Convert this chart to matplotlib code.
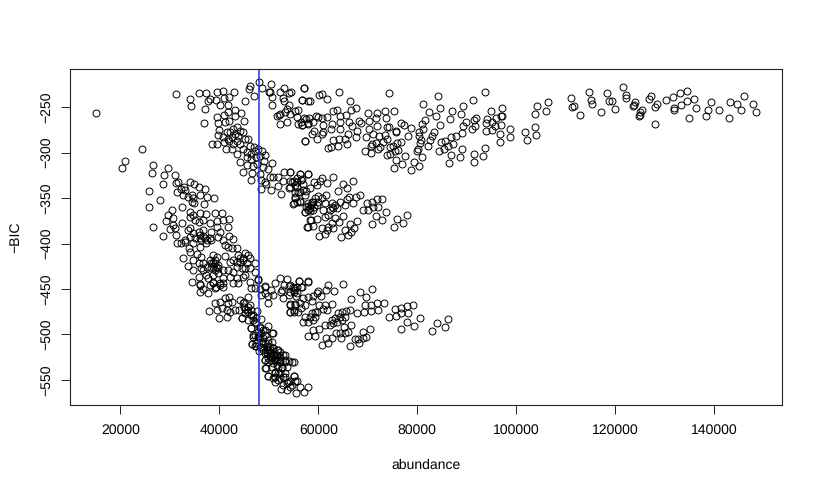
import numpy as np
import matplotlib
matplotlib.use("Agg")
import matplotlib.pyplot as plt

plt.rcParams['font.family'] = ['Liberation Sans', 'DejaVu Sans']
plt.rcParams['text.hinting'] = 'none'
plt.rcParams['text.hinting_factor'] = 1

# (abundance in thousands, -BIC)
outliers_left = [(15.1,-256.5),(24.4,-296),(20.9,-309),(20.4,-317),(26.7,-314),(26.5,-322),(29.7,-317),(28.9,-325),(28.6,-335),
(31.0,-325),(25.9,-342),(28.1,-352.4),(25.7,-360),(26.6,-382),(28.7,-392)]

top_left = [(31.2,-236),(34.1,-241),(34.3,-249),(35.8,-234.5),(37.4,-235),(39.5,-234),(40.7,-232),(43.0,-234),(37.8,-243),(38.1,-241),
(39.3,-242),(40.9,-240),(42,-239),(40.1,-248),(41.7,-248),(37.2,-252),(45.2,-243),(46.3,-226.5),(46,-230.5),(47.1,-238),(48,-222),
(48.7,-229),(50.4,-225),(50,-234),(50.2,-234),(50.7,-239),(50.6,-248),(53,-229),(52.2,-233),(54.1,-234.5),(54.4,-234),(52.9,-240),
(53.1,-243),(54.1,-248),(57.1,-229.5),(56.7,-242),(58,-243),(55.9,-253),(55.3,-254),(53.6,-252),(53.2,-256),(52.2,-258),(51.6,-260),
(52.1,-258.7),(54.3,-258),(55.7,-260.5),(53.6,-267),(52.2,-269),(55.9,-268.6),(56.7,-270),(57.6,-263),(58,-268.6),(57.4,-287)]

descending_band = [(37,-268),(43.1,-253),(44.4,-257),(41.7,-255),(40.9,-259),(39.5,-260.5),(43.1,-259.5),(41.9,-265),(41.1,-266),
(39.7,-267.5),(45,-265.7),(39.9,-275),(39.8,-281),(41.5,-277.7),(42.1,-277.7),(42.8,-274.1),(43.5,-272.3),(44.2,-275.9),(43.1,-279.6),
(43.8,-281.4),(42.5,-283.2),(41.8,-285),(40.8,-283.2),(44.8,-277.7),(45.2,-285),(45.8,-285),(44.2,-290.6),(43.5,-286.9),(42.8,-290.6),
(42,-286.9),(38.6,-290.5),(39.5,-291),(41.3,-296),(42.5,-296.4),(40.9,-288.7),(43.5,-301.5),(44.8,-296),(46.2,-292.4),(47.1,-294.2),
(45.5,-299.7),(46.5,-301.5),(47.2,-297.9),(47.9,-296),(45.5,-305.2),(46.5,-307),(47.5,-305.2),(48.2,-303.4),(48.7,-297.9),(49.3,-302.3),
(49.1,-308.9),(50.6,-311.8),(44.2,-310.7),(45.6,-313.6),(46.9,-315.1),(47.7,-312.5),(49.9,-318),(48.9,-316.2),(44.7,-321.7),(46.7,-322.4),
(48.3,-323.5),(46.4,-330.1),(48.4,-329.7),(49.2,-332.6),(50.2,-327.2),(48.5,-340),(53.1,-320.9),(54.3,-321.7),(56.4,-323.9),(58,-323.9),
(50.9,-327.2),(51.9,-327.2),(52.9,-330.8),(54.3,-330.8),(55.1,-330.8),(55.6,-332.6),(56.7,-329),(57,-334.5),(49.5,-334.5),(50.4,-341),
(51.9,-337),(52.4,-345.8),(54,-339.2),(55.6,-338.1),(56.3,-343.6),(57.6,-341.8),(55.3,-349.1),(56.3,-352.8),(54.9,-356.4),(55.6,-354.6),
(57.3,-365.6),(58,-358.3),(58.3,-363.8),(57.8,-382),(58.3,-374.7)]

top_middle = [(57.1,-229.4),(56.8,-242.6),(58.3,-243),(60.1,-237),(60.7,-235.7),(61.7,-241.5),(64.2,-234),(66.5,-243),(74.3,-235),(84.2,-238),
(81.1,-247),(93.6,-233.5),(91.2,-242.2),(89.3,-249),(84.6,-251),(82.3,-255),(87.1,-254),(88.8,-258),(83.8,-259.8),(86.7,-263),(81.6,-263.8),
(84.5,-269.7),(81,-268.6),(81.2,-274),(80.3,-277),(80.4,-282),(78.8,-273.3),(78.2,-281.8),(83.4,-277.7),(82.9,-281.4),(82.5,-285.8),(82.1,-293),
(80.7,-285.8),(80.5,-289.5),(80.2,-296),(79.9,-298.6),(80.9,-305.2),(79.3,-310),(80.4,-314.3),(78.8,-318.7),(76.9,-312.1),(77.5,-303.4),
(75.3,-316.5),(75.8,-307.8),(74.5,-301.5),(73.9,-302.6),(76.2,-297.1),(75.5,-297.9),(74.5,-294.2),(75.1,-293.1),(76,-289.5),(76.8,-288.7),
(73.4,-254),(75.2,-254),(71.8,-256.5),(71.6,-262.4),(73.6,-262.4),(70,-256.9),(70.3,-265.7),(71.9,-271.2),(73.9,-272.3),(74.3,-272.3),
(70.2,-274.4),(71.1,-279.6),(72.3,-281.4),(73.5,-280.7),(73.9,-285),(73,-288),(71.6,-289.5),(70.8,-290.6),(70.6,-293.1),(72.5,-294.2),
(72.1,-296),(69.4,-298.6),(70.6,-300.4),(75.8,-277),(75.8,-276.3),(76.8,-267.5),(77.3,-269.3),(69.6,-283.2),(67.7,-283.2),(67.9,-276.3),
(66.1,-279.6),(65.8,-290.9),(64,-292.4),(62,-294.9),(62.5,-293.8),(63,-286.5),(64.2,-285.4),(65.3,-284.7),(64.4,-274.1),(62.6,-274.1),
(61,-277.7),(60.7,-279.6),(59.2,-276.6),(58.8,-279.6),(59.7,-285),(57.4,-286.9),(64.4,-266.8),(62.8,-268.6),(61,-269.7),(66.2,-266),
(66.9,-271.2),(68.6,-267.9),(68.3,-264.9),(65.5,-258.7),(64.4,-260.2),(63,-254.7),(63.8,-252.9),(66.7,-252.9),(67.7,-251),(61.8,-260.5),
(60.7,-262),(60,-260.5),(59.5,-260.2),(59,-266.8),(58.2,-262.4),(57.1,-262),(56.8,-269.7),(58,-267.9),(56.6,-266.8)]

top_right_a = [(84.8,-288.7),(85.6,-287.6),(85.3,-296),(84.3,-297.9),(86.3,-292.4),(86.9,-283.2),(87.8,-282.1),(87.3,-290.6),(89,-296),(86.9,-302.3),
(88.6,-304.8),(86.5,-311),(89,-278.8),(89.8,-266.8),(89.2,-270.4),(91.4,-263.8),(91.9,-261.6),(91.6,-270.4),(91,-274.1),(94.9,-254),(97.2,-250.7),
(96,-262),(96.9,-260.2),(97.2,-259.8),(94,-263.1),(95,-266),(93.9,-267.9),(96.9,-269.3),(95.8,-271.2),(95,-274.8),(93.9,-276.3),(98.8,-274.1),
(96.7,-279.6),(98.7,-283.2),(96.7,-288.4),(101.8,-277),(102.2,-286.2),(103.8,-271.5),(104,-280.3),(103.7,-257.2),(104.1,-248.5),(93.6,-295.3),
(93.3,-304.1),(91.5,-301.5),(91.4,-310.3)]

top_right_b = [(106.4,-244.8),(106.1,-254),(111.1,-240),(111.3,-249.6),(111.7,-249.2),(112.9,-258.3),(114.7,-233.8),(115,-242.6),(115.2,-247),
(117.1,-255.8),(118.3,-234.6),(118.7,-243),(119.3,-243.7),(120,-252),(121.5,-228.3),(122.2,-236.7),(122.2,-240.4),(124,-244.4),(123.8,-247.7),
(123.6,-249),(125.3,-253.2),(125,-255.8),(124.9,-258.3),(124.7,-260),(128.1,-268.6),(127.3,-237.8),(126.9,-241.5),(128.4,-246.6),(128,-250.3),
(130.2,-242.2),(131.7,-239.3),(133.1,-235),(134.5,-232.4),(134.5,-243.7),(135.9,-241),(133.3,-248),(131.8,-251),(131.8,-252.9),(136.3,-251.4),
(134.8,-261.6),(139.3,-244),(138.7,-253.6),(138.3,-259.8),(141,-252.9),(143,-262.4),(143.2,-244.8),(144.6,-246.3),(145.4,-253.2),(146.1,-237.5),
(147.9,-246.3),(148.4,-255)]

lower_upper_arm = [(31.2,-333.8),(31.7,-332.4),(32.3,-340.4),(32.9,-338.2),(31.4,-343),(34.1,-332),(34.9,-335),(35.8,-338),(37.2,-340.4),(36.1,-346.6),
(34.4,-346.6),(33.7,-349.2),(34.7,-350.3),(34.4,-354),(34.9,-355),(37.6,-349.2),(39,-350),(37,-357),(33.1,-341),(32.7,-346.6)]

lower_dense = [(32.4,-359.4),(30.4,-363),(34,-365),(29.7,-368.6),(29.2,-375),(30.6,-371.5),(30.6,-379.6),(30,-384),(31,-383.2),(32.4,-377),(31.2,-391),
(31.4,-399.7),(32.2,-399.7),(33.1,-398),(33.9,-405.2),(34.1,-409),(32.7,-416),(34.1,-370.4),(34.7,-368.6),(36.2,-366),(37.3,-367.5),(39.1,-366.8),
(40.6,-366.8),(42,-373),(40.7,-374.1),(39.5,-375.2),(38.1,-377),(36.8,-374.1),(35.8,-375.9),(35.1,-374.1),(34.1,-383.2),(33.7,-385.1),(34.7,-388.7),
(35.8,-386.9),(36.8,-385.1),(36.1,-390.6),(35.1,-394.2),(36.4,-396),(37.1,-394.2),(38.1,-394.2),(38.4,-396),(37.4,-399.7),(36.1,-403.4),(39.5,-381.4),
(41.7,-381.8),(40.1,-386.9),(39.8,-392.4),(42,-391.6),(42.8,-394.9),(40.8,-396),(41.1,-401.5),(42.5,-405.2),(43.5,-405.2),(41.8,-403.4),(38.4,-386.9),
(34.1,-392.4),(33.1,-396),(34.7,-399.7),(36.4,-414.3),(35.4,-411.8),(38.8,-412.5),(39.5,-414.3),(41.1,-413.2),(39.1,-418),(38.1,-418),(42.1,-419.8),
(43.8,-412.5),(45.2,-410),(45.9,-412.5),(42.8,-418),(43.5,-419.8),(44.2,-416.2),(44.8,-418),(45.5,-421.7),(46.2,-416.2),(47.2,-421.7),(43.5,-425.3),
(44.5,-427.2),(45.2,-427.2),(47.2,-430.8),(42.8,-430.8),(41.8,-429),(40.8,-429),(38.4,-421.7),(39.1,-421.7),(39.8,-423.5),(38.4,-427.2),(39.1,-429),
(39.8,-427.2),(36.8,-421.7),(36.4,-427.2),(37.6,-425.3),(34.7,-418),(35.8,-421.7),(33.7,-424.6),(34.7,-429),(35.8,-436.3),(36.8,-429),(37.4,-434.5),
(38.8,-434.5),(39.8,-432.6),(40.8,-438.1),(42.1,-436.3),(45.2,-434.5),(46.2,-427.2),(43.8,-443.6),(42.8,-443.6),(34.4,-442.5),(36.1,-444.7),(37.8,-438.1),
(38.8,-441.8),(40.1,-443.6),(40.8,-447.3),(46.2,-441.8),(47.9,-439.2),(49.2,-446.5),(46.5,-449.1),(44.8,-436.3),(43.5,-438.1),(39.3,-447.3),(36.1,-394.2),
(36.8,-391.6),(37.6,-396),(38.8,-421.7),(39.3,-425.3),(38.8,-425.3),(44.8,-416.2),(44.2,-419.8)]

lower_tail = [(36.2,-453.6),(37.8,-454.7),(36.1,-445.6),(38.1,-445.6),(38.8,-443.8),(40.1,-445.6),(40.8,-443.8),(39.1,-449.3),(36.8,-450.3),(39.1,-465.7),
(40.1,-463.9),(41.1,-460.2),(42,-458.4),(41.8,-465.7),(42.5,-463.9),(40.5,-471.2),(38,-473.8),(39.5,-473),(41.5,-473),(42.2,-474.9),(43.2,-473),(44,-473),
(39.9,-481.5),(41.5,-480.4),(44.6,-481.5),(44.8,-465.7),(45.9,-458.4),(46.2,-467.6),(45.2,-472.3),(45.9,-474.9),(46.5,-478.5),(47.7,-473.8),(46.9,-484),
(46.5,-493.2),(48.5,-483.3),(49.9,-490.2),(50.8,-498.7),(47.5,-487.7),(50.6,-507.8),(46.7,-510.4),(47.2,-512.2),(48.1,-517.7),(48.2,-491.3),(48.9,-495),
(47.2,-500.5),(47.9,-502.3),(49.2,-500.5),(48.5,-507.8),(48.9,-509.6),(49.6,-513.3),(49.9,-517),(50.2,-518.8),(50.9,-515.1),(51.6,-522.4),(49.2,-520.6),
(50.6,-526.1),(52.2,-518.8),(53.3,-522.4),(53.3,-527.9),(54.1,-529),(54.7,-529.8),(49.2,-527.9),(49.9,-529.8),(50.9,-531.6),(51.6,-527.9),(52.2,-529.8),
(52.6,-537.1),(53.7,-535.3),(49.4,-537.1),(51.2,-540.8),(51.9,-542.6),(53.3,-542.6),(49.9,-545.5),(50.9,-548.1),(51.9,-549.9),(53.3,-546.2),(55,-545.5),
(55.6,-551),(53.6,-553.6),(54.3,-557.2),(52.4,-560.1),(53.6,-560.9),(56.4,-557.2),(58,-557.2),(55.5,-563.8),(57.1,-563.4),(53.9,-551.7),(52.9,-555.4),
(51.2,-546.2),(51.9,-536),(49.6,-518.8),(50.2,-522.4),(50.9,-522.4),(48.5,-513.3),(49.2,-509.6),(48.2,-502.3),(48.5,-498.7),(47.9,-496.8),(49.9,-509.6),
(50.2,-513.3),(51.6,-517),(51.2,-526.1),(52.2,-524.3),(50.2,-527.9)]

tail_extra = [(46.9,-502.3),(46.7,-510.7),(47.5,-512.2),(48.2,-513.3),(48.9,-517),(49.6,-520.6),(50.2,-517),(50.9,-515.1),(51.9,-517),(52.9,-522.5),
(51.6,-522.5),(50.6,-524.3),(49.9,-526.1),(49.2,-528),(51.2,-528),(52.3,-528),(53.3,-529.8),(55,-529.8),(49.2,-537),(50.6,-535.3),(51.6,-533.4),(52.6,-535.3),
(49.9,-545.2),(51.2,-542.6),(52.3,-542.6),(52.9,-546.2),(55,-545.2),(51.2,-552.5),(52.3,-548.1),(54.3,-551),(55.3,-551),(54.6,-555.4),
(49.2,-495),(50.7,-498.6),(46.5,-493),(47.5,-482.2),(46.9,-478.5),(45.5,-473),(44.9,-469.4),(45.9,-469.4),(44.2,-462),(44.9,-463.9),(46.5,-473),(45.2,-476.7),
(44.5,-482),(45.9,-484),(47.2,-485.8),(46.9,-500.5),(48.2,-493),(48.9,-504),(49.9,-506),(47.9,-502.3),(47.5,-509.6),
(47.9,-440),(48.2,-450),(48.4,-456.5),(47.2,-449.2)]

lower_fan_left = [(51.2,-443),(52.3,-438.2),(53.6,-439.3),(52.4,-452.9),(52.7,-451),(53.1,-445.6),(52.9,-460.2),(54.1,-446.3),(55.1,-449.2),(56.2,-440.8),
(57.9,-441.2),(56.5,-447.4),(55,-452.9),(55.6,-454.7),(54,-456.5),(54.3,-466.8),(55.3,-466.8),(54.3,-474.8),(55,-473),(49.2,-447.4),(50.4,-451),(49.2,-454.7),
(49.9,-457.3),(50.9,-456.5),(49.9,-465)]

lower_fan = [(56.2,-441.5),(58,-441.9),(62,-446),(64.9,-444.8),(61.5,-451),(63.2,-452.2),(60,-451.8),(60.5,-457.6),(59.7,-454.7),(54.3,-445.6),(54.8,-447.4),
(55.6,-447.4),(56.8,-447.4),(55.1,-451),(54.3,-452.9),(55.5,-457.6),(57,-460.2),(58,-458.4),(58.9,-457.6),(58.8,-463.1),(56.3,-465.7),(55.3,-467.5),
(54.3,-467.5),(57.3,-467.5),(56.6,-471.2),(56,-474.9),(55,-474.9),(54.3,-474.9),(60.2,-467.5),(61.4,-467.5),(62.7,-466.4),(61,-472.3),(59.7,-474.9),
(58.7,-476.7),(59.3,-474.9),(61.7,-473),(57.3,-480.3),(58.3,-480.3),(59.3,-480.3),(58,-485.8),(57,-485.8),(59,-484),(66.7,-461),(68.4,-452.9),(69.6,-458.4),
(70.9,-450.3),(69.4,-467.9),(70.6,-467.5),(71.9,-465.7),(73.3,-465),(67.9,-476),(69.2,-475.2),(70.6,-473.8),(72,-473),(74.3,-480.3),(75.5,-472.3),
(76.7,-471.2),(78,-468.6),(79.2,-467.5),(75.7,-479.6),(76.8,-476.7),(78.2,-476),(77.9,-486.2),(80.5,-482.2),(79.4,-490.6),(76.8,-494.2),(83,-496.1),
(83.9,-487.3),(85.5,-491.7),(86.3,-482.9),(66.4,-473),(65.6,-473.8),(64.7,-474.9),(64,-476.7),(65.4,-480.3),(64.4,-480.3),(63.4,-482.2),(62.7,-484),
(64.7,-484),(63.7,-485.8),(63,-487.7),(62.4,-489.5),(61.4,-489.5),(66.7,-489.5),(65.1,-491.3),(66.1,-496.8),(65.4,-497.9),(64.4,-497.9),(63.6,-498.6),
(69,-496.8),(70.4,-494.2),(69.6,-502.3),(69.1,-504.1),(68.1,-504.9),(67.4,-504.9),(68.3,-509.6),(66.4,-512.5),(64.5,-503.8),(62.7,-504.1),(61.5,-504.1),
(62,-509.6),(60.7,-511.5),(60.1,-493.9),(58.9,-495),(59.3,-501.2),(58,-501.6)]

middle_fan = [(54.3,-321.7),(56.3,-323.9),(58,-323.6),(63,-327.2),(60.8,-328.3),(59.1,-332),(59.7,-335.7),(61.8,-333.8),(60.3,-330.9),(64.9,-334.6),(67,-331.6),
(65.9,-339.3),(63.9,-341.9),(55.6,-328.3),(56.6,-330.2),(54.6,-332),(55.3,-335.7),(54.3,-337.5),(57,-341.1),(58.3,-339.3),(56,-343),(55.3,-344.8),(57.3,-346.6),
(60,-347.7),(61.5,-346.6),(56.3,-354),(55,-355.8),(55.3,-350.3),(61.4,-355.8),(62.7,-355.8),(64.4,-354),(66.3,-349.2),(65.7,-351.4),(67.7,-349.2),(68.5,-346.6),
(67.1,-355.8),(65.4,-357.6),(63.7,-361.3),(62.4,-363.1),(61,-363.1),(58,-355.8),(58.7,-354),(59.3,-350.3),(60,-354),(60.7,-350.3),(58.3,-361.3),(57.3,-364.9),
(59,-363.1),(57.6,-359.4),(59.7,-357.6),(63,-361.3),(62,-368.6),(61.4,-370.4),(69.1,-363.5),(69.9,-355),(70.9,-354.7),(71.9,-351.4),(72.9,-351),(70.1,-363.1),
(71.1,-360.2),(72.1,-359.4),(73.7,-365.7),(71.6,-369.7),(72.8,-374.1),(70.8,-378.1),(77.9,-369),(75.9,-373.3),(77.2,-377.4),(75.3,-382.1),(67.9,-375.5),
(66.4,-378.5),(67.2,-383.2),(65.4,-385.1),(66.7,-386.9),(66.1,-390.6),(64.6,-393.1),(64.9,-369.7),(63.4,-372.3),(64.2,-376.3),(62.7,-377.7),(62,-381.4),
(63,-383.2),(61.7,-385.1),(60.8,-383.2),(61.4,-389.5),(60.2,-391.3),(59.7,-373.3),(58.5,-374.1),(59,-380.3),(57.9,-381.4),(58.5,-357.6),(59,-354),(59.1,-359.4),
(58,-363.1),(62.7,-359.4),(63.4,-357.6)]

groups = [outliers_left, top_left, descending_band, top_middle, top_right_a, top_right_b,
          lower_upper_arm, lower_dense, lower_tail, tail_extra, lower_fan_left, lower_fan, middle_fan]

xticks = [20000, 40000, 60000, 80000, 100000, 120000, 140000]
yticks = [-250, -300, -350, -400, -450, -500, -550]
cutoff = 48100

W, H = 817, 492
fig = plt.figure(figsize=(W/100, H/100), dpi=100)
ax = fig.add_axes([70/W, 1-405/H, 712/W, 336/H])

for g in groups:
    a = np.array(g)
    ax.plot(a[:, 0]*1000, a[:, 1], ls='none', marker='o', mfc='none', mec='black', ms=5.0, mew=0.7)

ax.axvline(cutoff, color='#2a2ae6', lw=1.1)

ax.set_xlim(9840, 153680)
ax.set_ylim(-577.5, -208.2)
ax.set_xticks(xticks)
ax.set_xticklabels([str(t) for t in xticks], fontsize=10)
ax.set_yticks(yticks)
ax.set_yticklabels(['\u2212' + str(-t) for t in yticks], fontsize=10, rotation=90, va='center')
ax.tick_params(length=6.2, width=0.7, color='#222222')
ax.tick_params(axis='x', pad=7)
ax.tick_params(axis='y', pad=6)
for s in ax.spines.values():
    s.set_linewidth(0.8)
    s.set_color('#222222')

fig.text(426/W, 1-465/H, 'abundance', ha='center', va='center', fontsize=10)
fig.text(16/W, 1-237/H, '\u2212BIC', ha='center', va='center', rotation=90, fontsize=10)

fig.savefig('out.png', dpi=100)
